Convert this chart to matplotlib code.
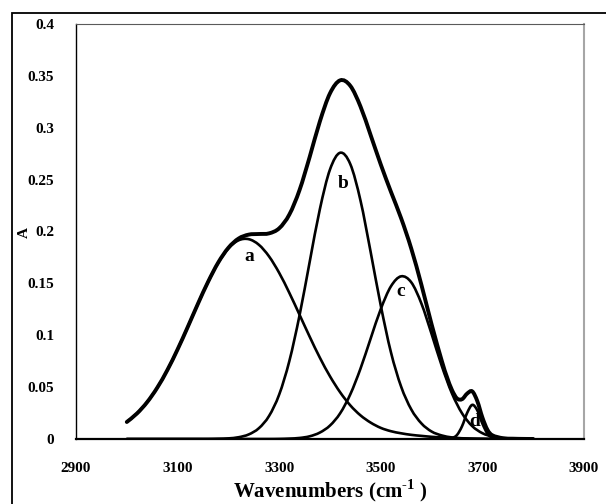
import matplotlib
matplotlib.use("Agg")
import matplotlib.pyplot as plt
from matplotlib.path import Path
from matplotlib.patches import PathPatch, Rectangle

# wavenumber grid (cm-1) and band values
wn = list(range(3000, 3801, 20))

band_a = [0.0164, 0.0246, 0.0355, 0.0495, 0.0666, 0.0864, 0.1080, 0.1303, 0.1515, 0.1699,
          0.1837, 0.1915, 0.1926, 0.1872, 0.1760, 0.1601, 0.1408, 0.1198, 0.0986, 0.0784,
          0.0604, 0.0450, 0.0324, 0.0228, 0.0158, 0.0107, 0.0075, 0.0055, 0.0040, 0.0030,
          0.0021, 0.0015, 0.0010, 0.0007, 0.0004, 0.0002, 0.0001, 0, 0, 0, 0]

band_b = [0, 0, 0, 0, 0, 0, 0, 0, 0, 0.0002,
          0.0006, 0.0017, 0.0044, 0.0104, 0.0222, 0.0429, 0.0752, 0.1191, 0.1707, 0.2214,
          0.2598, 0.2759, 0.2649, 0.2299, 0.1803, 0.1285, 0.0835, 0.0505, 0.0285, 0.0150,
          0.0072, 0.0034, 0.0015, 0.0006, 0.0002, 0.0001, 0, 0, 0, 0, 0]

band_c = [0, 0, 0, 0, 0, 0, 0, 0, 0, 0,
          0, 0, 0, 0, 0, 0.0001, 0.0004, 0.0010, 0.0026, 0.0062,
          0.0130, 0.0248, 0.0431, 0.0678, 0.0968, 0.1253, 0.1472, 0.1568, 0.1510, 0.1305,
          0.1012, 0.0705, 0.0440, 0.0247, 0.0124, 0.0056, 0.0023, 0.0008, 0.0003, 0.0001, 0]

wn_d = list(range(3620, 3741, 10))
band_d = [0, 0.0001, 0.0008, 0.0039, 0.0124, 0.0252, 0.0329, 0.0276, 0.0148, 0.0051,
          0.0011, 0.0002, 0]

wn_env = list(range(3000, 3621, 20)) + list(range(3630, 3721, 10)) + [3740, 3760, 3780, 3800]
envelope = [0.0164, 0.0246, 0.0355, 0.0495, 0.0666, 0.0864, 0.1080, 0.1303, 0.1515, 0.1701,
            0.1843, 0.1932, 0.1970, 0.1976, 0.1982, 0.2031, 0.2164, 0.2399, 0.2719, 0.3060,
            0.3332, 0.3457, 0.3404, 0.3205, 0.2929, 0.2645, 0.2382, 0.2128, 0.1835, 0.1485,
            0.1105, 0.0754, 0.0601, 0.0473, 0.0391, 0.0384, 0.0438, 0.0459, 0.0365, 0.0207,
            0.0088, 0.0035, 0.0008, 0.0003, 0.0001, 0]

labels = ["a", "b", "c", "d"]
label_x = [3242, 3425, 3540, 3685]
label_y = [0.1757, 0.2465, 0.142, 0.0167]

xticks = [2900, 3100, 3300, 3500, 3700, 3900]
yticks = [0, 0.05, 0.1, 0.15, 0.2, 0.25, 0.3, 0.35, 0.4]
ytick_labels = ["0", "0.05", "0.1", "0.15", "0.2", "0.25", "0.3", "0.35", "0.4"]

plt.rcParams["font.family"] = "Liberation Serif"
plt.rcParams["font.weight"] = "bold"
plt.rcParams["mathtext.fontset"] = "custom"
plt.rcParams["mathtext.rm"] = "Liberation Serif:bold"
plt.rcParams["mathtext.bf"] = "Liberation Serif:bold"


def suave(xs, ys):
    # smoothed line like the spreadsheet one (Catmull-Rom as bezier)
    n = len(xs)
    verts = [(xs[0], ys[0])]
    codes = [Path.MOVETO]
    for i in range(n - 1):
        p0 = i - 1 if i > 0 else i
        p3 = i + 2 if i + 2 < n else i + 1
        c1 = (xs[i] + (xs[i + 1] - xs[p0]) / 6, ys[i] + (ys[i + 1] - ys[p0]) / 6)
        c2 = (xs[i + 1] - (xs[p3] - xs[i]) / 6, ys[i + 1] - (ys[p3] - ys[i]) / 6)
        verts += [c1, c2, (xs[i + 1], ys[i + 1])]
        codes += [Path.CURVE4] * 3
    return Path(verts, codes)


fig = plt.figure(figsize=(6.06, 5.04), dpi=100)
ax = fig.add_axes([76 / 606, 65 / 504, 508 / 606, 415 / 504])

for xs, ys in [(wn, band_a), (wn, band_b), (wn, band_c), (wn_d, band_d)]:
    ax.add_patch(PathPatch(suave(xs, ys), fill=False, edgecolor="black", lw=1.9,
                           capstyle="round", zorder=3))
ax.add_patch(PathPatch(suave(wn_env, envelope), fill=False, edgecolor="black", lw=2.8,
                       capstyle="round", zorder=4))

for t, x, y in zip(labels, label_x, label_y):
    ax.text(x, y, t, fontsize=14, fontweight="bold", ha="center", va="center", zorder=2)

ax.set_xlim(2900, 3900)
ax.set_ylim(0, 0.4)
ax.set_xticks(xticks)
ax.set_yticks(yticks)
ax.set_yticklabels(ytick_labels)
ax.tick_params(length=0, labelsize=11)
ax.tick_params(axis="y", pad=15.8)
ax.tick_params(axis="x", pad=16.5)

ax.spines["left"].set_linewidth(1.0)
ax.spines["bottom"].set_linewidth(1.6)
ax.spines["top"].set_color("#5a5a5a")
ax.spines["top"].set_linewidth(0.8)
ax.spines["right"].set_color("#a6a6a6")
ax.spines["right"].set_linewidth(1.5)

ax.set_xlabel(r"Wavenumbers (cm$^{\text{-1}}$ )", fontsize=15, fontweight="bold")
ax.xaxis.set_label_coords(0.5, -0.093)
ax.set_ylabel("A", fontsize=11, fontweight="bold")
ax.yaxis.set_label_coords(-45 / 508, (439 - 232) / 415)

fig.add_artist(Rectangle((11.5 / 606, -0.05), 1.1, 1 - 12.5 / 504 + 0.05, transform=fig.transFigure,
                         fill=False, edgecolor="black", lw=1.3))

plt.savefig("out.png", dpi=100)
plt.close()
